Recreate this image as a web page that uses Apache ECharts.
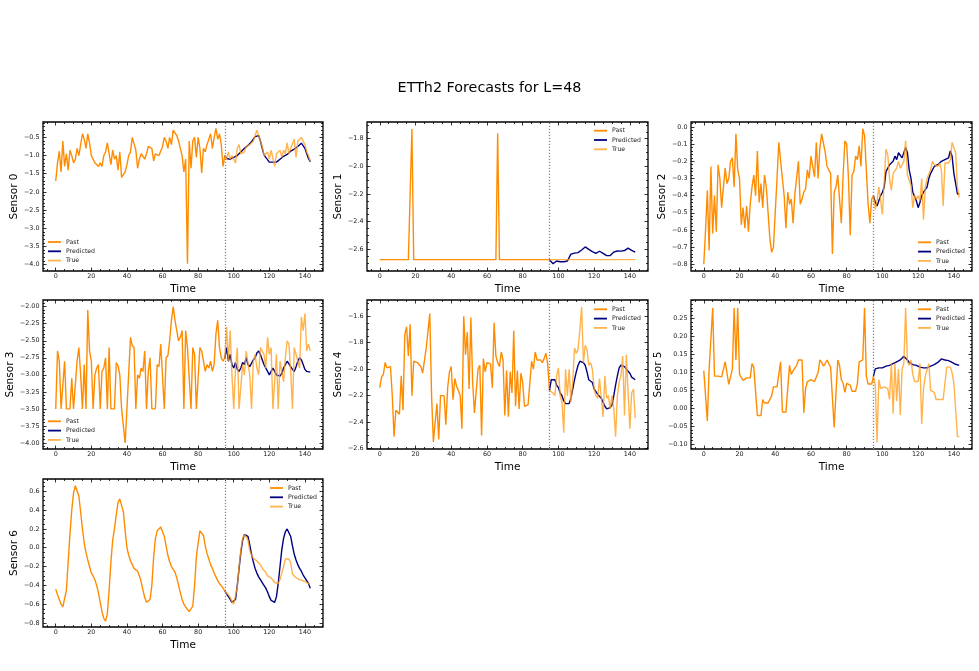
<!DOCTYPE html>
<html>
<head>
<meta charset="utf-8">
<script src="https://cdn.jsdelivr.net/npm/echarts@6/dist/echarts.min.js"></script>
<style>
  html, body { margin: 0; padding: 0; background: #fff; }
  #chart { width: 979px; height: 671px; }
</style>
</head>
<body>
<div id="chart"></div>
<script>
// past runs x = 0..95, true / predicted run x = 95..143
var pastStart = 0;
var futureStart = 95;
var xTicks = [0, 20, 40, 60, 80, 100, 120, 140];

var past0 = [-1.7, -1.2, -0.88, -1.45, -0.6, -1.3, -0.95, -1.4, -0.85, -1.0,
  -1.2, -1.1, -0.8, -1.0, -0.7, -0.4, -0.55, -0.8, -0.4, -0.65,
  -1.0, -1.1, -1.2, -1.15, -1.3, -1.2, -1.3, -1.0, -0.9, -0.65,
  -0.95, -1.25, -0.85, -1.1, -1.0, -1.4, -0.9, -1.6, -1.55, -1.45,
  -1.25, -1.0, -0.9, -0.5, -0.5, -0.85, -1.35, -1.1, -0.95, -1.0,
  -1.1, -0.95, -0.75, -0.75, -0.8, -1.15, -0.95, -0.95, -1.0, -0.95,
  -0.75, -0.5, -0.6, -0.8, -0.5, -0.7, -0.3, -0.25, -0.45, -0.6,
  -0.8, -1.0, -1.45, -1.1, -3.98, -0.6, -1.35, -0.6, -0.5, -1.05,
  -0.5, -0.8, -1.48, -0.8, -0.9, -0.7, -0.7, -0.4, -0.8, -0.5,
  -0.25, -0.55, -0.4, -0.7, -1.3, -1.0];
var true0 = [-1.0, -1.1, -0.9, -1.1, -1.0, -0.95, -1.2, -0.8, -0.7, -0.95,
  -0.95, -0.9, -0.75, -0.8, -0.7, -0.65, -0.6, -0.45, -0.3, -0.35,
  -0.6, -0.75, -1.0, -1.05, -0.9, -1.1, -0.85, -0.85, -1.3, -0.95,
  -1.0, -0.85, -1.05, -0.85, -0.95, -0.65, -0.95, -0.8, -0.85, -0.55,
  -1.05, -0.6, -0.55, -0.5, -0.45, -0.7, -0.9, -1.0, -1.15];
var pred0 = [-1.0, -1.08, -1.12, -1.1, -1.05, -1.05, -1.05, -1.0, -0.95, -0.9,
  -0.85, -0.8, -0.75, -0.72, -0.68, -0.62, -0.55, -0.48, -0.46, -0.45,
  -0.6, -0.8, -0.98, -1.05, -1.1, -1.18, -1.2, -1.18, -1.17, -1.18,
  -1.15, -1.1, -1.05, -1.02, -1.0, -0.97, -0.92, -0.88, -0.85, -0.82,
  -0.78, -0.75, -0.7, -0.66, -0.68, -0.8, -0.95, -1.08, -1.17];

var past1 = [-2.675, -2.675, -2.675, -2.675, -2.675, -2.675, -2.675, -2.675, -2.675, -2.675,
  -2.675, -2.675, -2.675, -2.675, -2.675, -2.675, -2.675, -2.675, -1.73, -2.675,
  -2.675, -2.675, -2.675, -2.675, -2.675, -2.675, -2.675, -2.675, -2.675, -2.675,
  -2.675, -2.675, -2.675, -2.675, -2.675, -2.675, -2.675, -2.675, -2.675, -2.675,
  -2.675, -2.675, -2.675, -2.675, -2.675, -2.675, -2.675, -2.675, -2.675, -2.675,
  -2.675, -2.675, -2.675, -2.675, -2.675, -2.675, -2.675, -2.675, -2.675, -2.675,
  -2.675, -2.675, -2.675, -2.675, -2.675, -2.675, -1.76, -2.675, -2.675, -2.675,
  -2.675, -2.675, -2.675, -2.675, -2.675, -2.675, -2.675, -2.675, -2.675, -2.675,
  -2.675, -2.675, -2.675, -2.675, -2.675, -2.675, -2.675, -2.675, -2.675, -2.675,
  -2.675, -2.675, -2.675, -2.675, -2.675, -2.675];
var true1 = [-2.675, -2.675, -2.675, -2.675, -2.675, -2.675, -2.675, -2.675, -2.675, -2.675,
  -2.675, -2.675, -2.675, -2.675, -2.675, -2.675, -2.675, -2.675, -2.675, -2.675,
  -2.675, -2.675, -2.675, -2.675, -2.675, -2.675, -2.675, -2.675, -2.675, -2.675,
  -2.675, -2.675, -2.675, -2.675, -2.675, -2.675, -2.675, -2.675, -2.675, -2.675,
  -2.675, -2.675, -2.675, -2.675, -2.675, -2.675, -2.675, -2.675, -2.675];
var pred1 = [-2.675, -2.69, -2.705, -2.7, -2.685, -2.69, -2.69, -2.69, -2.69, -2.688,
  -2.685, -2.66, -2.635, -2.628, -2.628, -2.626, -2.624, -2.615, -2.605, -2.595,
  -2.583, -2.59, -2.6, -2.608, -2.617, -2.624, -2.629, -2.62, -2.614, -2.62,
  -2.629, -2.638, -2.646, -2.653, -2.645, -2.634, -2.62, -2.609, -2.612, -2.614,
  -2.613, -2.611, -2.609, -2.6, -2.592, -2.598, -2.608, -2.615, -2.621];

var past2 = [-0.8, -0.6, -0.37, -0.72, -0.23, -0.62, -0.4, -0.61, -0.22, -0.3,
  -0.47, -0.35, -0.24, -0.33, -0.3, -0.2, -0.18, -0.35, -0.04, -0.25,
  -0.3, -0.57, -0.47, -0.59, -0.46, -0.61, -0.45, -0.35, -0.28, -0.4,
  -0.14, -0.44, -0.33, -0.47, -0.28, -0.35, -0.5, -0.65, -0.73, -0.7,
  -0.5, -0.3, -0.09, -0.08, -0.3, -0.4, -0.59, -0.38, -0.45, -0.42,
  -0.56, -0.39, -0.39, -0.2, -0.45, -0.42, -0.38, -0.36, -0.25, -0.3,
  -0.17, -0.18, -0.29, -0.09, -0.3, -0.12, -0.04, -0.05, -0.15, -0.23,
  -0.24, -0.27, -0.74, -0.38, -0.35, -0.28, -0.27, -0.56, -0.28, -0.08,
  -0.1, -0.3, -0.63, -0.28, -0.26, -0.17, -0.19, -0.11, -0.23, -0.01,
  -0.05, -0.25, -0.45, -0.56, -0.42, -0.4];
var true2 = [-0.4, -0.48, -0.43, -0.35, -0.36, -0.51, -0.32, -0.13, -0.16, -0.3,
  -0.37, -0.27, -0.27, -0.24, -0.2, -0.24, -0.25, -0.2, -0.08, -0.28,
  -0.27, -0.34, -0.47, -0.4, -0.42, -0.4, -0.43, -0.3, -0.54, -0.35,
  -0.3, -0.3, -0.25, -0.2, -0.22, -0.23, -0.23, -0.21, -0.25, -0.46,
  -0.21, -0.2, -0.21, -0.19, -0.09, -0.1, -0.15, -0.35, -0.41];
var pred2 = [-0.4, -0.44, -0.46, -0.43, -0.4, -0.38, -0.35, -0.26, -0.25, -0.22,
  -0.21, -0.2, -0.17, -0.19, -0.15, -0.16, -0.18, -0.17, -0.12, -0.15,
  -0.25, -0.3, -0.38, -0.39, -0.43, -0.47, -0.44, -0.4, -0.38, -0.37,
  -0.35, -0.3, -0.27, -0.26, -0.23, -0.22, -0.22, -0.21, -0.2, -0.19,
  -0.19, -0.19, -0.18, -0.14, -0.17, -0.27, -0.33, -0.39, -0.39];

var past3 = [-3.5, -2.65, -2.8, -3.5, -3.5, -2.8, -3.5, -3.5, -3.5, -3.05,
  -3.5, -3.5, -2.8, -2.6, -3.0, -3.5, -2.85, -3.5, -2.05, -2.65,
  -2.8, -3.5, -3.0, -2.9, -2.85, -3.5, -2.95, -2.9, -2.75, -3.5,
  -2.6, -3.5, -3.5, -3.5, -2.82, -2.87, -3.0, -3.5, -3.5, -4.0,
  -3.5, -3.5, -2.45, -2.57, -2.6, -3.5, -3.0, -3.05, -2.9, -2.95,
  -2.65, -3.5, -2.95, -2.75, -3.5, -3.5, -3.5, -2.85, -2.88, -2.55,
  -2.55, -3.5, -2.75, -2.72, -2.5, -2.2, -2.0, -2.2, -2.35, -2.5,
  -2.45, -2.35, -3.5, -2.35, -2.6, -2.6, -3.5, -2.6, -2.7, -3.5,
  -3.5, -2.6, -2.65, -2.8, -2.95, -2.85, -2.9, -2.8, -2.95, -2.85,
  -2.4, -2.2, -2.6, -2.75, -2.8, -2.75];
var true3 = [-2.75, -2.3, -2.8, -2.35, -3.0, -3.5, -2.9, -2.6, -3.5, -3.5,
  -2.85, -3.0, -2.65, -2.65, -3.0, -3.5, -2.8, -2.7, -2.9, -3.0,
  -2.6, -2.65, -2.7, -2.9, -2.45, -2.7, -2.6, -3.5, -3.5, -2.7,
  -3.5, -2.8, -2.8, -3.1, -2.75, -2.5, -2.55, -2.95, -3.5, -2.6,
  -2.7, -2.8, -2.9, -2.15, -2.35, -2.1, -2.65, -2.55, -2.65];
var pred3 = [-2.75, -2.6, -2.8, -2.7, -2.85, -2.9, -2.82, -2.92, -2.95, -2.9,
  -2.82, -2.85, -2.75, -2.85, -2.88, -2.9, -2.78, -2.75, -2.68, -2.65,
  -2.7, -2.78, -2.85, -2.9, -2.95, -3.0, -2.95, -2.9, -2.95, -3.0,
  -3.02, -3.02, -2.98, -2.9, -2.85, -2.8, -2.82, -2.88, -2.92, -2.95,
  -2.88, -2.8, -2.75, -2.78, -2.85, -2.92, -2.95, -2.95, -2.96];

var past4 = [-2.14, -2.06, -2.04, -1.95, -1.99, -1.98, -1.98, -2.2, -2.51, -2.31,
  -2.32, -2.34, -2.05, -2.31, -1.74, -1.68, -1.9, -1.66, -2.2, -1.94,
  -1.95, -1.95, -1.95, -1.98, -2.03, -2.03, -1.84, -1.84, -1.58, -2.2,
  -2.55, -2.54, -2.26, -2.53, -2.2, -2.19, -2.2, -2.42, -2.14, -2.02,
  -1.98, -2.23, -2.07, -2.13, -2.16, -2.2, -2.45, -1.6, -1.89, -1.72,
  -2.15, -1.61, -2.1, -2.33, -2.33, -2.0, -1.97, -2.5, -1.92, -2.02,
  -1.95, -1.95, -1.96, -2.14, -1.65, -1.9, -1.95, -1.98, -1.87, -1.93,
  -2.35, -2.01, -2.36, -2.02, -2.18, -1.71, -2.28, -2.01, -2.3, -2.03,
  -2.1, -2.28, -2.27, -2.27, -2.28, -1.94, -2.0, -1.87, -1.93, -1.93,
  -1.93, -1.95, -1.92, -1.88, -1.96, -2.16];
var true4 = [-2.16, -2.16, -2.18, -2.2, -2.05, -1.99, -2.2, -2.25, -2.48, -2.0,
  -2.2, -2.0, -2.25, -2.1, -1.84, -1.88, -1.85, -1.7, -1.53, -1.95,
  -1.82, -1.85, -1.97, -1.95, -2.0, -2.15, -2.2, -2.22, -2.07, -2.06,
  -2.36, -2.05, -2.22, -2.2, -2.3, -2.2, -2.3, -2.51, -2.2, -2.1,
  -2.05, -1.9, -2.35, -1.89, -2.17, -2.45, -2.18, -2.15, -2.37];
var pred4 = [-2.16, -2.08, -2.07, -2.08, -2.12, -2.14, -2.18, -2.2, -2.24, -2.26,
  -2.27, -2.26, -2.22, -2.15, -2.08, -2.02, -1.97, -1.94, -1.95, -1.95,
  -1.97, -2.02, -2.08, -2.09, -2.1, -2.15, -2.17, -2.19, -2.2, -2.22,
  -2.25, -2.28, -2.3, -2.3, -2.29, -2.27, -2.2, -2.12, -2.05, -1.99,
  -1.97, -1.96, -1.98, -2.0, -2.01, -2.03, -2.06, -2.07, -2.08];

var past5 = [0.105, 0.105, -0.035, 0.11, 0.11, 0.28, 0.09, 0.09, 0.09, 0.088,
  0.088, 0.088, 0.13, 0.128, 0.067, 0.067, 0.11, 0.28, 0.135, 0.28,
  0.095, 0.09, 0.078, 0.08, 0.085, 0.085, 0.085, 0.125, 0.115, 0.12,
  -0.02, -0.02, -0.02, 0.025, 0.015, 0.015, 0.015, 0.015, 0.035, 0.06,
  0.06, 0.06, 0.065, 0.13, -0.01, -0.01, -0.01, -0.01, 0.12, 0.095,
  0.105, 0.105, 0.12, 0.135, 0.135, 0.135, -0.012, 0.055, 0.075, 0.075,
  0.08, 0.085, 0.075, 0.08, 0.1, 0.135, 0.128, 0.118, 0.125, 0.135,
  0.135, 0.115, 0.11, -0.053, -0.053, 0.135, 0.12, 0.08, 0.07, 0.045,
  0.07, 0.07, 0.065, 0.048, 0.048, 0.048, 0.07, 0.13, 0.135, 0.135,
  0.28, 0.09, 0.068, 0.068, 0.068, 0.09];
var true5 = [0.09, 0.065, -0.095, 0.08, 0.055, 0.06, 0.06, 0.06, 0.055, 0.025,
  0.125, -0.015, 0.125, 0.02, 0.11, -0.018, 0.11, 0.125, 0.28, 0.13,
  0.12, 0.135, 0.095, 0.075, 0.075, 0.075, 0.125, -0.043, 0.055, 0.09,
  0.095, 0.125, 0.05, 0.052, 0.045, 0.025, 0.025, 0.025, 0.025, 0.025,
  0.07, 0.115, 0.115, 0.115, 0.1, 0.07, 0.07, -0.078, -0.078];
var pred5 = [0.09, 0.11, 0.115, 0.113, 0.115, 0.113, 0.115, 0.118, 0.12, 0.12,
  0.122, 0.125, 0.125, 0.13, 0.135, 0.135, 0.14, 0.145, 0.14, 0.135,
  0.128, 0.125, 0.122, 0.12, 0.12, 0.118, 0.115, 0.115, 0.113, 0.115,
  0.113, 0.118, 0.118, 0.12, 0.122, 0.125, 0.128, 0.133, 0.138, 0.138,
  0.135, 0.135, 0.133, 0.13, 0.128, 0.125, 0.123, 0.122, 0.12];

var past6 = [-0.44, -0.5, -0.55, -0.6, -0.63, -0.63, -0.45, -0.15, 0.15, 0.4,
  0.58, 0.66, 0.64, 0.55, 0.38, 0.2, 0.05, -0.05, -0.13, -0.2,
  -0.27, -0.3, -0.34, -0.4, -0.48, -0.58, -0.68, -0.75, -0.78, -0.7,
  -0.45, -0.15, 0.08, 0.2, 0.35, 0.48, 0.52, 0.5, 0.38, 0.18,
  0.0, -0.08, -0.14, -0.18, -0.22, -0.23, -0.25, -0.3, -0.36, -0.45,
  -0.53, -0.58, -0.6, -0.55, -0.4, -0.1, 0.1, 0.18, 0.2, 0.22,
  0.2, 0.12, 0.02, -0.08, -0.15, -0.2, -0.23, -0.26, -0.32, -0.4,
  -0.48, -0.55, -0.6, -0.63, -0.65, -0.68, -0.69, -0.62, -0.4, -0.1,
  0.05, 0.18, 0.2, 0.13, 0.02, -0.06, -0.12, -0.18, -0.22, -0.27,
  -0.31, -0.35, -0.38, -0.4, -0.43, -0.46];
var true6 = [-0.46, -0.48, -0.5, -0.53, -0.57, -0.6, -0.58, -0.42, -0.2, -0.02,
  0.1, 0.14, 0.15, 0.08, -0.03, -0.08, -0.11, -0.12, -0.14, -0.16,
  -0.18, -0.22, -0.24, -0.26, -0.3, -0.31, -0.32, -0.34, -0.37, -0.38,
  -0.38, -0.34, -0.27, -0.2, -0.12, -0.1, -0.12, -0.16, -0.28, -0.3,
  -0.32, -0.33, -0.34, -0.34, -0.35, -0.36, -0.37, -0.38, -0.39];
var pred6 = [-0.46, -0.49, -0.52, -0.55, -0.58, -0.6, -0.55, -0.4, -0.22, -0.05,
  0.08, 0.14, 0.16, 0.12, 0.03, -0.07, -0.15, -0.22, -0.27, -0.31,
  -0.34, -0.37, -0.4, -0.43, -0.47, -0.52, -0.56, -0.58, -0.58, -0.52,
  -0.38, -0.2, -0.02, 0.1, 0.17, 0.2, 0.19, 0.12, 0.02, -0.07,
  -0.13, -0.18, -0.22, -0.25, -0.29, -0.32, -0.35, -0.38, -0.43];

var yTicks0 = [-4.0, -3.5, -3.0, -2.5, -2.0, -1.5, -1.0, -0.5];
var yTicks1 = [-2.6, -2.4, -2.2, -2.0, -1.8];
var yTicks2 = [-0.8, -0.7, -0.6, -0.5, -0.4, -0.3, -0.2, -0.1, 0.0];
var yTicks3 = [-4.0, -3.75, -3.5, -3.25, -3.0, -2.75, -2.5, -2.25, -2.0];
var yTicks4 = [-2.6, -2.4, -2.2, -2.0, -1.8, -1.6];
var yTicks5 = [-0.10, -0.05, 0.0, 0.05, 0.10, 0.15, 0.20, 0.25];
var yTicks6 = [-0.8, -0.6, -0.4, -0.2, 0.0, 0.2, 0.4, 0.6];

var X_MIN = -7.15, X_MAX = 150.15;
var FONT = 'DejaVu Sans';
var PAST_COLOR = '#FF8C00';
var PRED_COLOR = '#000080';
var TRUE_COLOR = 'rgba(255,158,25,0.78)';

var sensors = [
  { name: 'Sensor 0', past: past0, truth: true0, pred: pred0, yMin: -4.177, yMax: -0.076, ticks: yTicks0, minor: 0.1, dec: 1, gap: 23.5, legend: [48, 238.5] },
  { name: 'Sensor 1', past: past1, truth: true1, pred: pred1, yMin: -2.757, yMax: -1.679, ticks: yTicks1, minor: 0.05, dec: 1, gap: 21, legend: [594, 127.2] },
  { name: 'Sensor 2', past: past2, truth: true2, pred: pred2, yMin: -0.839, yMax: 0.029, ticks: yTicks2, minor: 0.02, dec: 1, gap: 19.8, legend: [918, 238.8] },
  { name: 'Sensor 3', past: past3, truth: true3, pred: pred3, yMin: -4.088, yMax: -1.902, ticks: yTicks3, minor: 0.05, dec: 2, gap: 24.4, legend: [48, 417.8] },
  { name: 'Sensor 4', past: past4, truth: true4, pred: pred4, yMin: -2.603, yMax: -1.477, ticks: yTicks4, minor: 0.05, dec: 1, gap: 21, legend: [594, 305.8] },
  { name: 'Sensor 5', past: past5, truth: true5, pred: pred5, yMin: -0.113, yMax: 0.302, ticks: yTicks5, minor: 0.01, dec: 2, gap: 23.7, legend: [918, 305.8] },
  { name: 'Sensor 6', past: past6, truth: true6, pred: pred6, yMin: -0.843, yMax: 0.731, ticks: yTicks6, minor: 0.05, dec: 1, gap: 23.7, legend: [270, 484.5] }
];

var gridRects = [
  [43, 122, 280, 149], [367, 122, 281, 149], [691, 122, 281, 149],
  [43, 300, 280, 149], [367, 300, 281, 149], [691, 300, 281, 149],
  [43, 479, 280, 148]
];

function fmt(dec) {
  return function (v) {
    var s = Math.abs(v) < 1e-9 ? (0).toFixed(dec) : v.toFixed(dec);
    return s.replace('-', '\u2212');
  };
}

function minorTicks(min, max, step, majors) {
  var out = [];
  for (var k = Math.ceil(min / step - 1e-9); k * step <= max + 1e-9; k++) {
    var v = +(k * step).toFixed(6);
    var isMajor = majors.some(function (m) { return Math.abs(m - v) < 1e-9; });
    if (!isMajor) out.push(v);
  }
  return out;
}

function axisDef(g, pos, min, max, ticks, major, label) {
  var a = {
    type: 'value', gridIndex: g, position: pos, min: min, max: max,
    axisLine: { show: false, onZero: false },
    splitLine: { show: false },
    axisTick: { show: true, inside: true, length: major ? 3.5 : 2, customValues: ticks,
      lineStyle: { color: '#000', width: 0.8 } },
    axisLabel: { show: false }
  };
  if (label) {
    a.axisLabel = { show: true, customValues: ticks, fontSize: 6.4, fontFamily: FONT, color: '#1a1a1a',
      margin: pos === 'left' ? 3.5 : 2, formatter: label };
  }
  return a;
}

var option = {
  animation: false,
  backgroundColor: '#fff',
  title: {
    text: 'ETTh2 Forecasts for L=48', left: 'center', top: 81, padding: 0,
    textStyle: { fontSize: 14.3, fontWeight: 'normal', color: '#000', fontFamily: FONT }
  },
  grid: [], xAxis: [], yAxis: [], legend: [], series: []
};

sensors.forEach(function (s, g) {
  var r = gridRects[g];
  option.grid.push({ left: r[0], top: r[1], width: r[2], height: r[3], show: true,
    borderColor: '#000', borderWidth: 1.3, containLabel: false, outerBoundsMode: 'none' });

  var xi = option.xAxis.length;
  var xMinor = minorTicks(X_MIN, X_MAX, 5, xTicks);
  var xMain = axisDef(g, 'bottom', X_MIN, X_MAX, xTicks, true, function (v) { return String(Math.round(v)); });
  xMain.name = 'Time';
  xMain.nameLocation = 'middle';
  xMain.nameGap = 12.5;
  xMain.nameTextStyle = { fontSize: 10.5, fontFamily: FONT, color: '#000' };
  option.xAxis.push(xMain);
  option.xAxis.push(axisDef(g, 'bottom', X_MIN, X_MAX, xMinor, false, null));
  option.xAxis.push(axisDef(g, 'top', X_MIN, X_MAX, xTicks, true, null));
  option.xAxis.push(axisDef(g, 'top', X_MIN, X_MAX, xMinor, false, null));

  var yi = option.yAxis.length;
  var yMinor = minorTicks(s.yMin, s.yMax, s.minor, s.ticks);
  var yMain = axisDef(g, 'left', s.yMin, s.yMax, s.ticks, true, fmt(s.dec));
  yMain.name = s.name;
  yMain.nameLocation = 'middle';
  yMain.nameGap = s.gap;
  yMain.nameTextStyle = { fontSize: 10.5, fontFamily: FONT, color: '#000' };
  option.yAxis.push(yMain);
  option.yAxis.push(axisDef(g, 'left', s.yMin, s.yMax, yMinor, false, null));
  option.yAxis.push(axisDef(g, 'right', s.yMin, s.yMax, s.ticks, true, null));
  option.yAxis.push(axisDef(g, 'right', s.yMin, s.yMax, yMinor, false, null));

  option.legend.push({
    data: ['Past', 'Predicted', 'True'], orient: 'vertical',
    left: s.legend[0], top: s.legend[1], padding: 0, itemGap: 2.3,
    icon: 'rect', itemWidth: 13, itemHeight: 1.8, selectedMode: false,
    textStyle: { fontSize: 6.2, lineHeight: 7, fontFamily: FONT, color: '#222', padding: [0, 0, 0, 0] }
  });

  option.series.push({
    type: 'line', name: 'Past', xAxisIndex: xi, yAxisIndex: yi, symbol: 'none',
    data: s.past.map(function (v, i) { return [pastStart + i, v]; }),
    lineStyle: { color: PAST_COLOR, width: 1.4 }, itemStyle: { color: PAST_COLOR },
    markLine: {
      silent: true, symbol: 'none', label: { show: false },
      lineStyle: { color: '#8a8a8a', type: [1.3, 1.7], width: 1.3 },
      data: [{ xAxis: futureStart }]
    }
  });
  option.series.push({
    type: 'line', name: 'Predicted', xAxisIndex: xi, yAxisIndex: yi, symbol: 'none',
    data: s.pred.map(function (v, i) { return [futureStart + i, v]; }),
    lineStyle: { color: PRED_COLOR, width: 1.4 }, itemStyle: { color: PRED_COLOR }
  });
  option.series.push({
    type: 'line', name: 'True', xAxisIndex: xi, yAxisIndex: yi, symbol: 'none',
    data: s.truth.map(function (v, i) { return [futureStart + i, v]; }),
    lineStyle: { color: TRUE_COLOR, width: 1.4 }, itemStyle: { color: TRUE_COLOR }
  });
});

var chart = echarts.init(document.getElementById('chart'), null, { renderer: 'canvas' });
chart.setOption(option);
</script>
</body>
</html>
